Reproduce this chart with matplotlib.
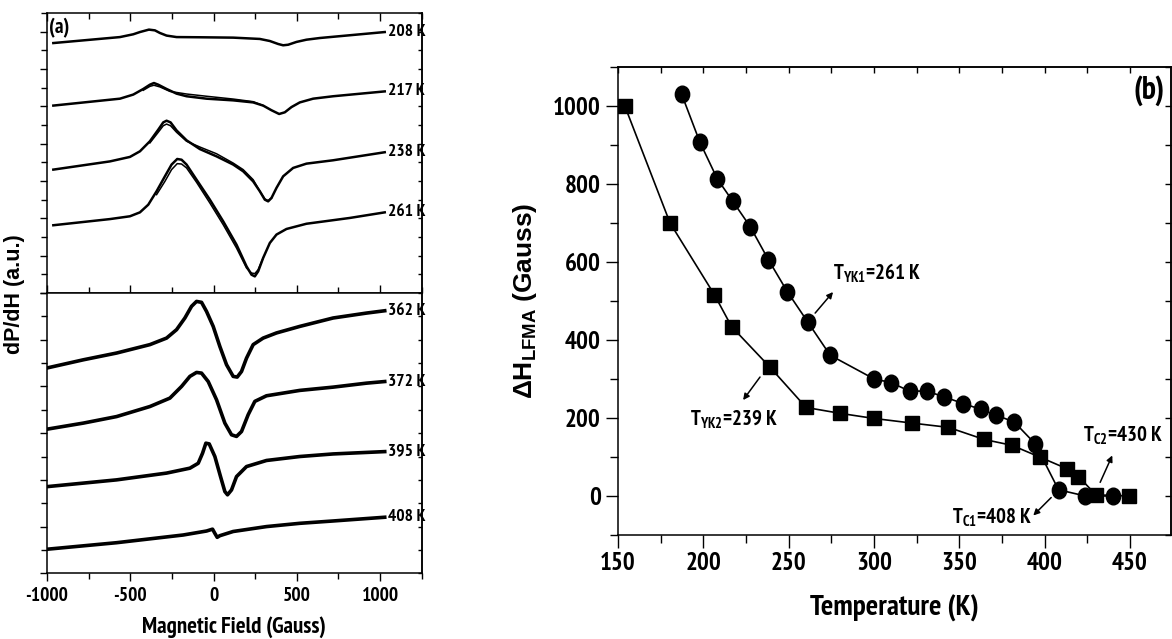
import matplotlib as mpl
mpl.use('Agg')
import matplotlib.pyplot as plt
from matplotlib import font_manager
from matplotlib.path import Path
from matplotlib.transforms import Affine2D
from matplotlib.ticker import MultipleLocator, NullFormatter


def heavy(w):
    return (w if isinstance(w, int) else font_manager.weight_dict.get(w, 400)) >= 600

# pick a condensed bold sans if one is installed
bold_names = {f.name for f in font_manager.fontManager.ttflist if heavy(f.weight)}
NARROW = next((n for n in ['Liberation Sans Narrow', 'Arial Narrow', 'Nimbus Sans Narrow',
                           'Archivo Narrow', 'PT Sans Narrow', 'Roboto Condensed',
                           'IBM Plex Sans Condensed', 'Fira Sans Condensed',
                           'Barlow Semi Condensed', 'Encode Sans Semi Condensed',
                           'Liberation Sans'] if n in bold_names), 'DejaVu Sans')

mpl.rcParams.update({'font.family': [NARROW, 'DejaVu Sans'],
                     'font.weight': 'bold',
                     'axes.labelweight': 'bold',
                     'axes.unicode_minus': False,
                     'mathtext.fontset': 'custom',
                     'mathtext.rm': NARROW + ':bold',
                     'mathtext.it': NARROW + ':bold',
                     'mathtext.bf': 'Liberation Sans:bold',
                     'axes.linewidth': 1.1,
                    })

# ---- (a) LFMA spectra: field (G) vs dP/dH (a.u., stacked offsets) ----
h_208 = [-962, -562, -482, -442, -388, -352, -322, -282, -222, -82, 118, 278, 338, 388, 418, 448, 498, 558, 638, 1028]
s_208 = [13.39, 13.71, 13.86, 13.98, 14.11, 14.07, 13.93, 13.79, 13.71, 13.70, 13.68, 13.61, 13.50, 13.34, 13.27, 13.30, 13.45, 13.57, 13.66, 13.98]

h_217 = [-962, -562, -482, -422, -382, -358, -332, -282, -222, -162, -42, 118, 238, 298, 348, 394, 428, 468, 518, 598, 718, 1028]
s_217 = [10.04, 10.41, 10.63, 10.93, 11.16, 11.25, 11.16, 10.93, 10.68, 10.54, 10.41, 10.32, 10.21, 10.04, 9.79, 9.59, 9.68, 9.96, 10.21, 10.41, 10.54, 10.80]
h_217r = [-422, -382, -358, -322, -262, -162, -42, 118, 238, 298]
s_217r = [10.86, 11.07, 11.13, 11.04, 10.80, 10.66, 10.54, 10.39, 10.25, 10.04]

h_238 = [-962, -622, -502, -442, -382, -332, -302, -282, -258, -222, -162, -82, 18, 118, 178, 238, 278, 308, 328, 348, 378, 418, 478, 558, 718, 1028]
s_238 = [6.61, 7.05, 7.29, 7.59, 8.13, 8.75, 9.14, 9.23, 9.14, 8.71, 8.18, 7.71, 7.32, 6.88, 6.52, 5.98, 5.45, 5.00, 4.91, 5.09, 5.63, 6.25, 6.70, 6.93, 7.11, 7.54]
h_238r = [-382, -332, -302, -282, -258, -222, -162, -82, 18, 118, 178, 238, 278, 308, 328, 348]
s_238r = [8.04, 8.61, 8.96, 9.05, 8.96, 8.61, 8.13, 7.82, 7.46, 6.96, 6.61, 6.07, 5.45, 5.04, 4.95, 5.09]

h_261 = [-962, -622, -502, -442, -392, -342, -292, -252, -218, -192, -162, -102, -22, 58, 138, 198, 228, 248, 268, 298, 338, 378, 438, 558, 818, 1028]
s_261 = [3.63, 3.96, 4.11, 4.32, 4.73, 5.45, 6.25, 6.88, 7.18, 7.14, 6.88, 6.07, 5.00, 3.84, 2.59, 1.43, 0.98, 0.89, 1.16, 1.88, 2.68, 3.13, 3.43, 3.71, 4.02, 4.32]
h_261r = [-342, -292, -252, -218, -192, -162, -102, -22, 58, 138, 198, 228, 248, 268, 298]
s_261r = [5.27, 5.98, 6.61, 6.93, 6.91, 6.70, 5.93, 4.82, 3.66, 2.41, 1.34, 1.07, 1.04, 1.25, 1.88]

h_362 = [-1000, -782, -582, -382, -282, -222, -172, -132, -102, -72, -42, -2, 38, 78, 118, 142, 168, 198, 238, 298, 378, 518, 718, 918, 1028]
s_362 = [8.79, 9.14, 9.43, 9.79, 10.07, 10.43, 10.93, 11.43, 11.64, 11.60, 11.21, 10.57, 9.71, 8.93, 8.43, 8.40, 8.64, 9.21, 9.79, 10.07, 10.29, 10.57, 10.93, 11.14, 11.24]

h_372 = [-1000, -782, -582, -382, -262, -192, -142, -102, -72, -32, 18, 68, 108, 138, 168, 208, 248, 318, 518, 718, 918, 1028]
s_372 = [6.17, 6.43, 6.71, 7.14, 7.50, 8.00, 8.43, 8.60, 8.57, 8.21, 7.43, 6.43, 5.93, 5.86, 6.07, 6.79, 7.36, 7.60, 7.83, 7.97, 8.14, 8.21]

h_395 = [-1000, -582, -282, -142, -92, -66, -46, -26, 8, 42, 68, 84, 108, 138, 198, 318, 518, 718, 1028]
s_395 = [3.71, 4.00, 4.29, 4.50, 4.71, 5.14, 5.57, 5.54, 5.00, 4.14, 3.50, 3.36, 3.57, 4.14, 4.57, 4.83, 5.00, 5.11, 5.21]

h_408 = [-1000, -582, -182, -42, -6, 8, 22, 38, 118, 318, 518, 718, 1028]
s_408 = [1.03, 1.31, 1.64, 1.81, 1.89, 1.71, 1.54, 1.61, 1.79, 2.00, 2.14, 2.24, 2.40]

# ---- (b) LFMA linewidth vs temperature ----
t_sq = [154, 180.5, 206.5, 216.6, 239.1, 260.2, 280.1, 299.7, 322.2, 343.6, 364.5, 380.8, 397, 413, 419.8, 430, 449.1]
dh_sq = [1000, 700, 516, 434, 330, 227, 212, 199, 187, 176, 145, 130, 100, 70, 50, 3, 0]
t_ci = [187.3, 198, 208.2, 217.2, 227.4, 238.1, 249.2, 261.2, 274.3, 300.1, 309.9, 320.8, 331, 341.1,
        352.4, 362.6, 371.6, 382.1, 394.4, 408.1, 423.8, 440.3]
dh_ci = [1030, 907, 813, 756, 691, 606, 524, 446, 361, 300, 291, 269, 269, 254,
         237, 222, 207, 190, 134, 16, 0, 0]

W, H = 1172, 639
fig = plt.figure(figsize=(W/100, H/100), dpi=100)

def px_axes(x0, y0, x1, y1):
    return fig.add_axes([x0/W, 1 - y1/H, (x1 - x0)/W, (y1 - y0)/H])

ax_hi = px_axes(47, 13, 421.7, 293)
ax_lo = px_axes(47, 293, 421.7, 573.3)
ax_b = px_axes(618, 67, 1171, 535)

def style_a(ax, ylim, bottom_out):
    ax.set_xlim(-1000, 1250)
    ax.set_ylim(*ylim)
    ax.xaxis.set_major_locator(MultipleLocator(500))
    ax.xaxis.set_minor_locator(MultipleLocator(250))
    ax.yaxis.set_major_locator(MultipleLocator(2))
    ax.yaxis.set_minor_locator(MultipleLocator(1))
    ax.yaxis.set_major_formatter(NullFormatter())
    ax.tick_params(axis='y', which='both', direction='out', left=True, right=False, width=1)
    ax.tick_params(axis='y', which='major', length=5)
    ax.tick_params(axis='y', which='minor', length=4)
    ax.tick_params(axis='x', which='both', direction='out' if bottom_out else 'in',
                   top=not bottom_out, width=1)
    ax.tick_params(axis='x', which='major', length=6)
    ax.tick_params(axis='x', which='minor', length=4)
    ax.tick_params(axis='x', labelsize=14, pad=4)
    # mirrored ticks on the right spine
    sec = ax.secondary_yaxis('right')
    sec.yaxis.set_major_locator(MultipleLocator(2))
    sec.yaxis.set_minor_locator(MultipleLocator(1))
    sec.yaxis.set_major_formatter(NullFormatter())
    sec.tick_params(which='both', direction='in', length=3, width=1)
    sec.spines['right'].set_linewidth(1.1)

style_a(ax_hi, (0, 15), False)
ax_hi.xaxis.set_major_formatter(NullFormatter())
style_a(ax_lo, (0, 12), True)

upper = [(h_208, s_208, None, None, '208 K'),
         (h_217, s_217, h_217r, s_217r, '217 K'),
         (h_238, s_238, h_238r, s_238r, '238 K'),
         (h_261, s_261, h_261r, s_261r, '261 K')]
for hx, sy, hr, sr, lab in upper:
    ax_hi.plot(hx, sy, color='k', lw=1.8, solid_joinstyle='round')
    if hr is not None:
        ax_hi.plot(hr, sr, color='k', lw=1.1, solid_joinstyle='round')
    ax_hi.text(1048, sy[-1], lab, fontsize=12.5, va='center', ha='left')

lower = [(h_362, s_362, '362 K'), (h_372, s_372, '372 K'),
         (h_395, s_395, '395 K'), (h_408, s_408, '408 K')]
for hx, sy, lab in lower:
    ax_lo.plot(hx, sy, color='k', lw=2.6, solid_joinstyle='round')
    ax_lo.text(1048, sy[-1], lab, fontsize=12.5, va='center', ha='left')

ax_hi.text(-985, 14.2, '(a)', fontsize=15, va='center', ha='left')
ax_lo.set_xlabel('Magnetic Field (Gauss)', fontsize=16.5, labelpad=8)
fig.text(15/W, 1 - 294/H, 'dP/dH (a.u.)', rotation=90, fontsize=15.5,
         family=['Liberation Sans', 'DejaVu Sans'], weight='bold', ha='center', va='center')

# ---- panel (b) ----
ellipse = Path.unit_circle().transformed(Affine2D().scale(0.86, 1.0))
ax_b.plot(t_sq, dh_sq, color='k', lw=1.2, marker='s', ms=9.5)
ax_b.plot(t_ci, dh_ci, color='k', lw=1.2, marker=ellipse, ms=12)
ax_b.set_xlim(150, 474)
ax_b.set_ylim(-100, 1100)
ax_b.xaxis.set_major_locator(MultipleLocator(50))
ax_b.xaxis.set_minor_locator(MultipleLocator(25))
ax_b.yaxis.set_major_locator(MultipleLocator(200))
ax_b.yaxis.set_minor_locator(MultipleLocator(100))
ax_b.tick_params(which='both', direction='out', width=1, labelsize=18)
ax_b.tick_params(which='major', length=9)
ax_b.tick_params(which='minor', length=6)
for side, axis in (('top', 'x'), ('right', 'y')):
    sec = ax_b.secondary_xaxis('top') if axis == 'x' else ax_b.secondary_yaxis('right')
    loc = (50, 25) if axis == 'x' else (200, 100)
    getattr(sec, axis + 'axis').set_major_locator(MultipleLocator(loc[0]))
    getattr(sec, axis + 'axis').set_minor_locator(MultipleLocator(loc[1]))
    getattr(sec, axis + 'axis').set_major_formatter(NullFormatter())
    sec.tick_params(which='both', direction='in', length=4, width=1)
    sec.spines[side].set_linewidth(1.1)

ax_b.set_xlabel('Temperature (K)', fontsize=21, labelpad=14)
ax_b.set_ylabel(r'$\mathbf{\Delta H_{LFMA}}$ (Gauss)', fontsize=19, labelpad=10,
                family=['Liberation Sans', 'DejaVu Sans'], weight='bold')
ax_b.text(470, 1040, '(b)', fontsize=23, ha='right', va='center')

arrow = dict(arrowstyle='-|>', lw=1.1, color='k', mutation_scale=9, shrinkA=0, shrinkB=0)
notes = [(r'$\mathrm{T_{YK1}}$=261 K', (276, 572), 'left', (265.5, 469), (276, 523)),
         (r'$\mathrm{T_{YK2}}$=239 K', (192, 195), 'left', (233.2, 305), (223.3, 246)),
         (r'$\mathrm{T_{C2}}$=430 K', (469.5, 153), 'right', (432.5, 35), (439.6, 104)),
         (r'$\mathrm{T_{C1}}$=408 K', (345.8, -55), 'left', (403.8, -4), (393.3, -50))]
for txt, pos, ha, tail, head in notes:
    ax_b.text(pos[0], pos[1], txt, fontsize=15, ha=ha, va='center')
    ax_b.annotate('', xy=head, xytext=tail, arrowprops=arrow)

fig.savefig('out.png', dpi=100)
